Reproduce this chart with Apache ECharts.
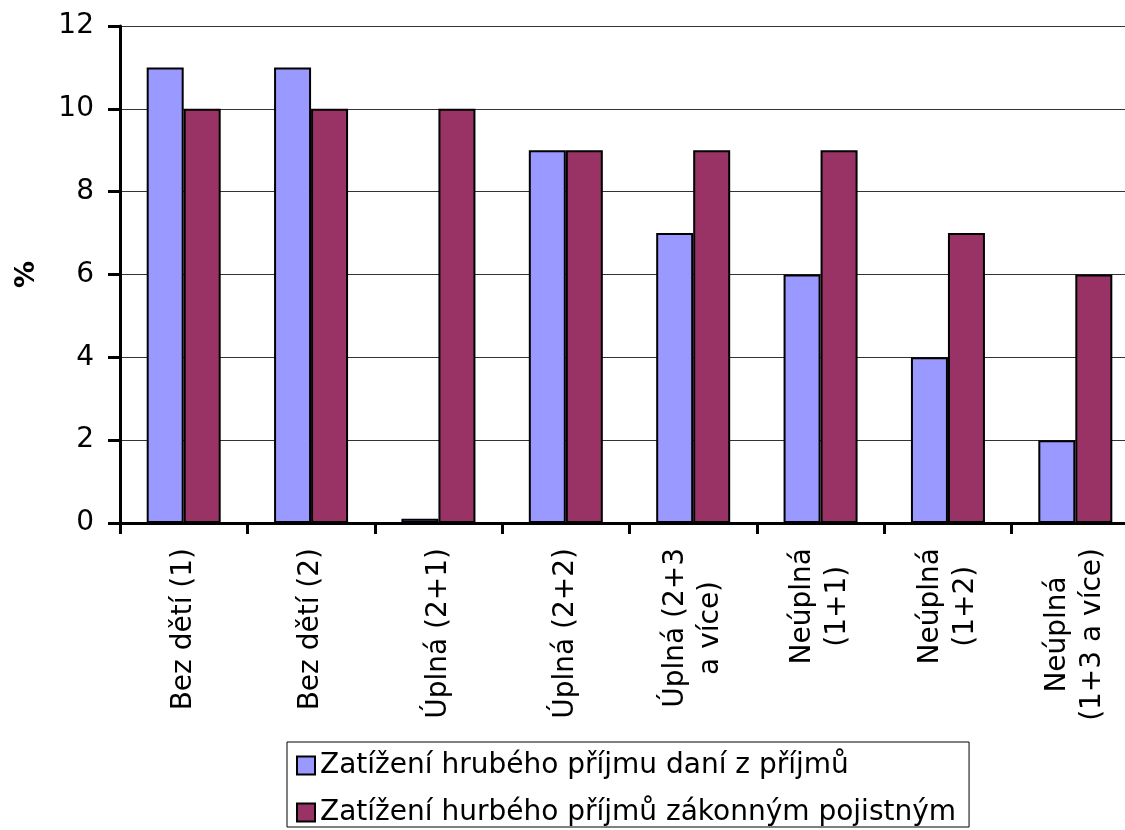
<!DOCTYPE html>
<html>
<head>
<meta charset="utf-8">
<script src="https://cdn.jsdelivr.net/npm/echarts@6/dist/echarts.min.js"></script>
<style>html,body{margin:0;padding:0;background:#fff;}#c{width:1125px;height:830px;}</style>
</head>
<body>
<div id="c"></div>
<script>
const categories = ['Bez dětí (1)', 'Bez dětí (2)', 'Úplná (2+1)', 'Úplná (2+2)', 'Úplná (2+3\na více)', 'Neúplná\n(1+1)', 'Neúplná\n(1+2)', 'Neúplná\n(1+3 a více)'];
const taxValues = [11, 11, 0.1, 9, 7, 6, 4, 2];
const insuranceValues = [10, 10, 10, 9, 9, 9, 7, 6];
const seriesNames = ['Zatížení hrubého příjmu daní z příjmů', 'Zatížení hurbého příjmů zákonným pojistným'];
const yTicks = [0, 2, 4, 6, 8, 10, 12];

const FONT = 'DejaVu Sans';
const chart = echarts.init(document.getElementById('c'), null, {renderer: 'canvas'});
chart.setOption({
  animation: false,
  backgroundColor: '#fff',
  grid: {left: 120, top: 26, bottom: 307, right: -14, containLabel: false, outerBoundsMode: 'none'},
  legend: {
    orient: 'vertical', left: 287, top: 742,
    padding: [9, 13, 0, 9],
    borderColor: '#000', borderWidth: 1,
    itemWidth: 18, itemHeight: 18, itemGap: 18,
    icon: 'rect',
    textStyle: {fontFamily: FONT, fontSize: 28, color: '#000', lineHeight: 29},
    data: seriesNames
  },
  xAxis: {
    type: 'category', data: categories,
    axisLine: {lineStyle: {color: '#000', width: 3}},
    axisTick: {show: true, length: 11, lineStyle: {color: '#000', width: 3}},
    axisLabel: {
      rotate: 90, margin: 25, color: '#000', fontFamily: FONT, fontSize: 28, interval: 0,
      formatter: v => v.split('\n').map(l => '{c|' + l + '}').join('\n'),
      rich: {c: {align: 'center', fontFamily: FONT, fontSize: 28, lineHeight: 35, color: '#000'}}
    }
  },
  yAxis: {
    type: 'value', min: yTicks[0], max: yTicks[yTicks.length - 1], interval: 2,
    name: '%', nameLocation: 'middle', nameRotate: 90, nameGap: 80,
    nameTextStyle: {fontFamily: FONT, fontSize: 27, fontWeight: 'bold', color: '#000'},
    axisLine: {show: true, lineStyle: {color: '#000', width: 3}},
    axisTick: {show: true, length: 12, lineStyle: {color: '#000', width: 3}},
    axisLabel: {margin: 26, color: '#000', fontFamily: FONT, fontSize: 28},
    splitLine: {show: true, lineStyle: {color: '#333', width: 1}}
  },
  series: [
    {name: seriesNames[0], type: 'bar', data: taxValues, barWidth: 37, barGap: '0%',
     itemStyle: {color: '#9999FF', borderColor: '#000', borderWidth: 2}},
    {name: seriesNames[1], type: 'bar', data: insuranceValues, barWidth: 37, barGap: '0%',
     itemStyle: {color: '#993366', borderColor: '#000', borderWidth: 2}}
  ]
});
</script>
</body>
</html>
